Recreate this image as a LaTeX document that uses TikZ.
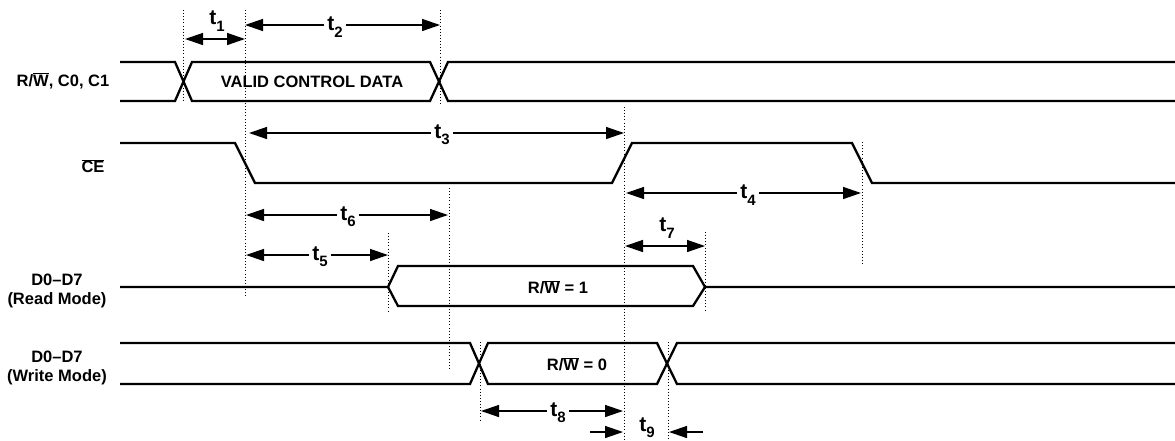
\documentclass[tikz,border=0pt]{standalone}
\usepackage{fontspec}
\setmainfont{Liberation Sans}
\usetikzlibrary{arrows.meta}
\newcommand{\tsub}[1]{t\raisebox{-0.30em}{\fontsize{15}{15}\selectfont #1}}
\newcommand{\ovl}[1]{$\overline{\mbox{#1}}$}
\begin{document}
\begin{tikzpicture}[x=1pt,y=-1pt,
  sig/.style={line width=2.3pt,line join=miter},
  guide/.style={line width=0.8pt,dash pattern=on 0.9pt off 2.2pt},
  dim/.style={line width=1.4pt,-{Triangle[length=18pt,width=12pt]}},
  dimboth/.style={line width=1.4pt,{Triangle[length=18pt,width=12pt]}-{Triangle[length=18pt,width=12pt]}},
  lab/.style={font=\bfseries\fontsize{16.5}{19}\selectfont,align=center,inner sep=0pt},
  tlab/.style={font=\bfseries\fontsize{21}{22}\selectfont,inner sep=3pt}]
\useasboundingbox (0,0) rectangle (1175,440);

% row labels
\node[lab] (lrw) at (63,81) {R/\ovl{W}, C0, C1};
\node[lab] (lce) at (93,166) {\ovl{CE}};
\node[lab] (lrd) at (57,291) {D0--D7\\(Read Mode)};
\node[lab] (lwr) at (57,368) {D0--D7\\(Write Mode)};

% signals
\draw[sig] (120,62)--(175,62)--(192,101)--(430,101)--(448,62)--(1175,62);
\draw[sig] (120,101)--(175,101)--(192,62)--(430,62)--(448,101)--(1175,101);
\node[lab] (vcd) at (312,82) {VALID CONTROL DATA};

\draw[sig] (120,143)--(235,143)--(255,183)--(612,183)--(632,143)--(852,143)--(872,183)--(1175,183);

\draw[sig] (120,287)--(388,287)--(398,266)--(693,266)--(705,287)--(1175,287);
\draw[sig] (388,287)--(398,306)--(693,306)--(705,287);
\node[lab] (rw1) at (558,287) {R/\ovl{W} = 1};

\draw[sig] (120,343)--(470,343)--(488,384)--(657,384)--(677,343)--(1175,343);
\draw[sig] (120,384)--(470,384)--(488,343)--(657,343)--(677,384)--(1175,384);
\node[lab] (rw0) at (577,364) {R/\ovl{W} = 0};

% guide lines
\coordinate (g1) at (183,10);  \draw[guide] (g1) -- (183,100);
\coordinate (g2) at (245,10);  \draw[guide] (g2) -- (245,297);
\coordinate (g3) at (440,10);  \draw[guide] (g3) -- (440,105);
\coordinate (g4) at (624,107); \draw[guide] (g4) -- (624,440);
\coordinate (g5) at (862,142); \draw[guide] (g5) -- (862,263);
\coordinate (g6) at (449,188); \draw[guide] (g6) -- (449,368);
\coordinate (g7) at (388,233); \draw[guide] (g7) -- (388,313);
\coordinate (g8) at (705,232); \draw[guide] (g8) -- (705,310);
\coordinate (g9) at (480,342); \draw[guide] (g9) -- (480,420);
\coordinate (g10) at (668,342); \draw[guide] (g10) -- (668,440);

% timing dimensions
\node[tlab] (t1) at (217,21) {\tsub{1}};
\coordinate (t1a) at (185,39); \coordinate (t1b) at (245,39);
\draw[dimboth] (t1a) -- (t1b);

\node[tlab] (t2) at (335,27) {\tsub{2}};
\coordinate (t2a) at (245,25); \coordinate (t2b) at (440,25);
\draw[dim] (t2.west|-t2a) -- (t2a);
\draw[dim] (t2.east|-t2b) -- (t2b);

\node[tlab] (t3) at (442,135) {\tsub{3}};
\coordinate (t3a) at (249,133); \coordinate (t3b) at (624,133);
\draw[dim] (t3.west|-t3a) -- (t3a);
\draw[dim] (t3.east|-t3b) -- (t3b);

\node[tlab] (t4) at (748,195) {\tsub{4}};
\coordinate (t4a) at (626,193); \coordinate (t4b) at (861,193);
\draw[dim] (t4.west|-t4a) -- (t4a);
\draw[dim] (t4.east|-t4b) -- (t4b);

\node[tlab] (t6) at (348,217) {\tsub{6}};
\coordinate (t6a) at (246,215); \coordinate (t6b) at (448,215);
\draw[dim] (t6.west|-t6a) -- (t6a);
\draw[dim] (t6.east|-t6b) -- (t6b);

\node[tlab] (t5) at (320,257) {\tsub{5}};
\coordinate (t5a) at (246,255); \coordinate (t5b) at (388,255);
\draw[dim] (t5.west|-t5a) -- (t5a);
\draw[dim] (t5.east|-t5b) -- (t5b);

\node[tlab] (t7) at (667,228) {\tsub{7}};
\coordinate (t7a) at (625,246); \coordinate (t7b) at (705,246);
\draw[dimboth] (t7a) -- (t7b);

\node[tlab] (t8) at (558,413) {\tsub{8}};
\coordinate (t8a) at (481,411); \coordinate (t8b) at (623,411);
\draw[dim] (t8.west|-t8a) -- (t8a);
\draw[dim] (t8.east|-t8b) -- (t8b);

\node[tlab] (t9) at (647,428) {\tsub{9}};
\coordinate (t9a) at (590,432); \coordinate (t9b) at (623,432);
\coordinate (t9c) at (703,432); \coordinate (t9d) at (669,432);
\draw[dim] (t9a) -- (t9b);
\draw[dim] (t9c) -- (t9d);
\end{tikzpicture}
\end{document}
